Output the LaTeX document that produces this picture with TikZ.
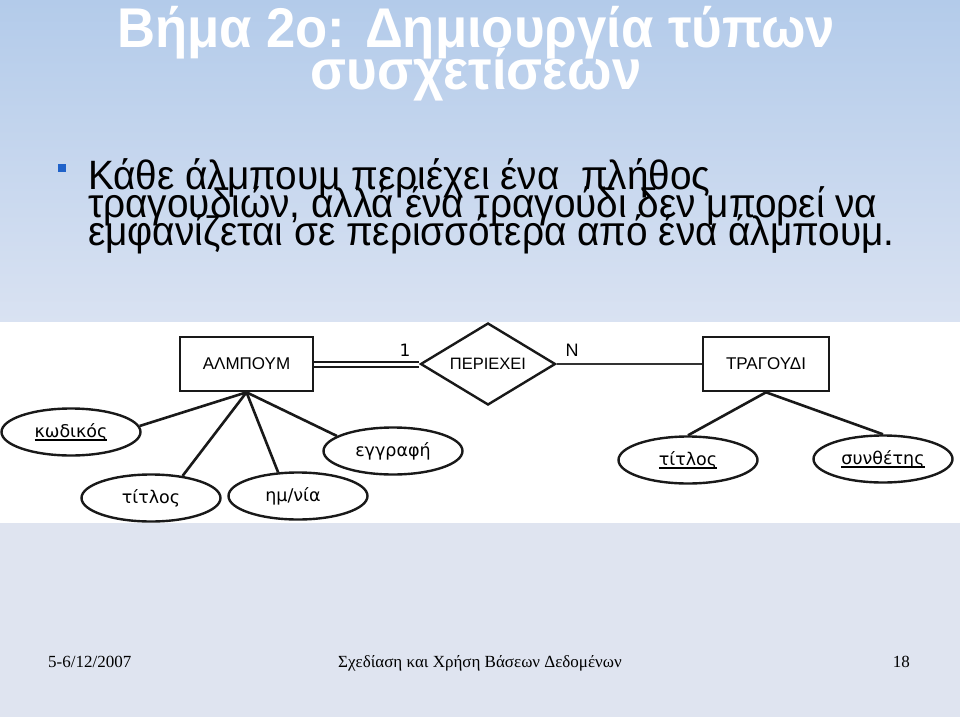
\documentclass[tikz,border=0pt]{standalone}
\usepackage{graphicx}
\usepackage{fontspec}
\setmainfont{Liberation Sans}
\newfontfamily\dvs{DejaVu Sans}
\newfontfamily\lserif{Liberation Serif}
\usetikzlibrary{shapes.geometric}
\definecolor{bgtop}{HTML}{B3CBEA}
\definecolor{bgmid}{HTML}{D9E2F2}
\definecolor{bgbot}{HTML}{DFE4F0}
\definecolor{bullblue}{HTML}{1F62C9}
\newcommand\ulx[1]{\setbox0\hbox{#1}\rlap{\rule[-3.8pt]{\wd0}{1.8pt}}\box0}
\newcommand\sqz[2]{\scalebox{#1}[1]{#2}}
\begin{document}
\begin{tikzpicture}[x=1pt,y=-1pt,
  ent/.style={draw=black!90,fill=white,line width=2.6pt,minimum width=133pt,minimum height=54pt,inner sep=0pt,font=\fontsize{17}{17}\selectfont},
  attr/.style={draw=black!90,fill=white,ellipse,line width=2.4pt,minimum width=139pt,minimum height=47pt,inner sep=0pt,font=\dvs\fontsize{17.5}{17.5}\selectfont},
  relshape/.style={draw=black!90,fill=white,diamond,aspect=2,line width=2.4pt,minimum width=135pt,minimum height=82pt,inner sep=0pt,font=\fontsize{16.5}{16.5}\selectfont},
  conn/.style={draw=black!90,line width=2.6pt},
  card/.style={font=\dvs\fontsize{17}{17}\selectfont,inner sep=0pt},
  titletxt/.style={anchor=base,white,inner sep=0pt,font=\bfseries\fontsize{56}{56}\selectfont},
  bodytxt/.style={anchor=base west,inner sep=0pt,font=\fontsize{41}{41}\selectfont},
  foot/.style={inner sep=0pt,font=\lserif\fontsize{17}{17}\selectfont}]
\useasboundingbox (0,0) rectangle (960,717);
\fill[top color=bgtop,bottom color=bgmid] (0,0) rectangle (960,322);
\fill[white] (0,322) rectangle (960,523);
\fill[bgbot] (0,523) rectangle (960,717);

\node[titletxt] (t1) at (476,48) {\sqz{0.94}{Βήμα 2ο: Δημιουργία τύπων}};
\node[titletxt] (t2) at (476,89) {\sqz{0.94}{συσχετίσεων}};

\node[fill=bullblue,minimum size=8pt,inner sep=0pt] (bul) at (62,168) {};
\node[bodytxt] (b1) at (88,189) {\sqz{0.945}{Κάθε άλμπουμ περιέχει ένα \ πλήθος}};
\node[bodytxt] (b2) at (88,217) {\sqz{0.945}{τραγουδιών, αλλά ένα τραγούδι δεν μπορεί να}};
\node[bodytxt] (b3) at (88,245) {\sqz{0.945}{εμφανίζεται σε περισσότερα από ένα άλμπουμ.}};

\node[ent] (alb) at (246.5,364) {ΑΛΜΠΟΥΜ};
\node[ent,minimum width=126pt] (trg) at (766,364) {ΤΡΑΓΟΥΔΙ};
\node[relshape] (rel) at (488,364) {ΠΕΡΙΕΧΕΙ};
\node[attr] (kod) at (71,432) {\ulx{κωδικός}};
\node[attr] (tit1) at (151,498) {τίτλος};
\node[attr] (hm) at (298,496) {\hspace*{-10pt}ημ/νία};
\node[attr] (egg) at (393,451) {εγγραφή};
\node[attr] (tit2) at (688,460) {\ulx{τίτλος}};
\node[attr] (syn) at (883,459) {\ulx{συνθέτης}};

\draw[draw=black!90,double,double distance=3pt,line width=2pt] (alb.east) -- (rel.west);
\draw[conn,line width=2.3pt,draw=black!80] (rel.east) -- (trg.west);
\draw[conn] (alb.south) -- (kod.5);
\draw[conn] (alb.south) -- (tit1.35);
\draw[conn] (alb.south) -- (hm.130);
\draw[conn] (alb.south) -- (egg.165);
\draw[conn] (trg.south) -- (tit2.north);
\draw[conn] (trg.south) -- (syn.north);
\node[card] (c1) at (405,350) {1};
\node[card,font=\fontsize{18}{18}\selectfont] (cn) at (572,350) {N};

\node[foot,anchor=base west] (f1) at (48,667) {5-6/12/2007};
\node[foot,anchor=base] (f2) at (480,667) {Σχεδίαση και Χρήση Βάσεων Δεδομένων};
\node[foot,anchor=base east] (f3) at (910,667) {18};
\end{tikzpicture}
\end{document}
